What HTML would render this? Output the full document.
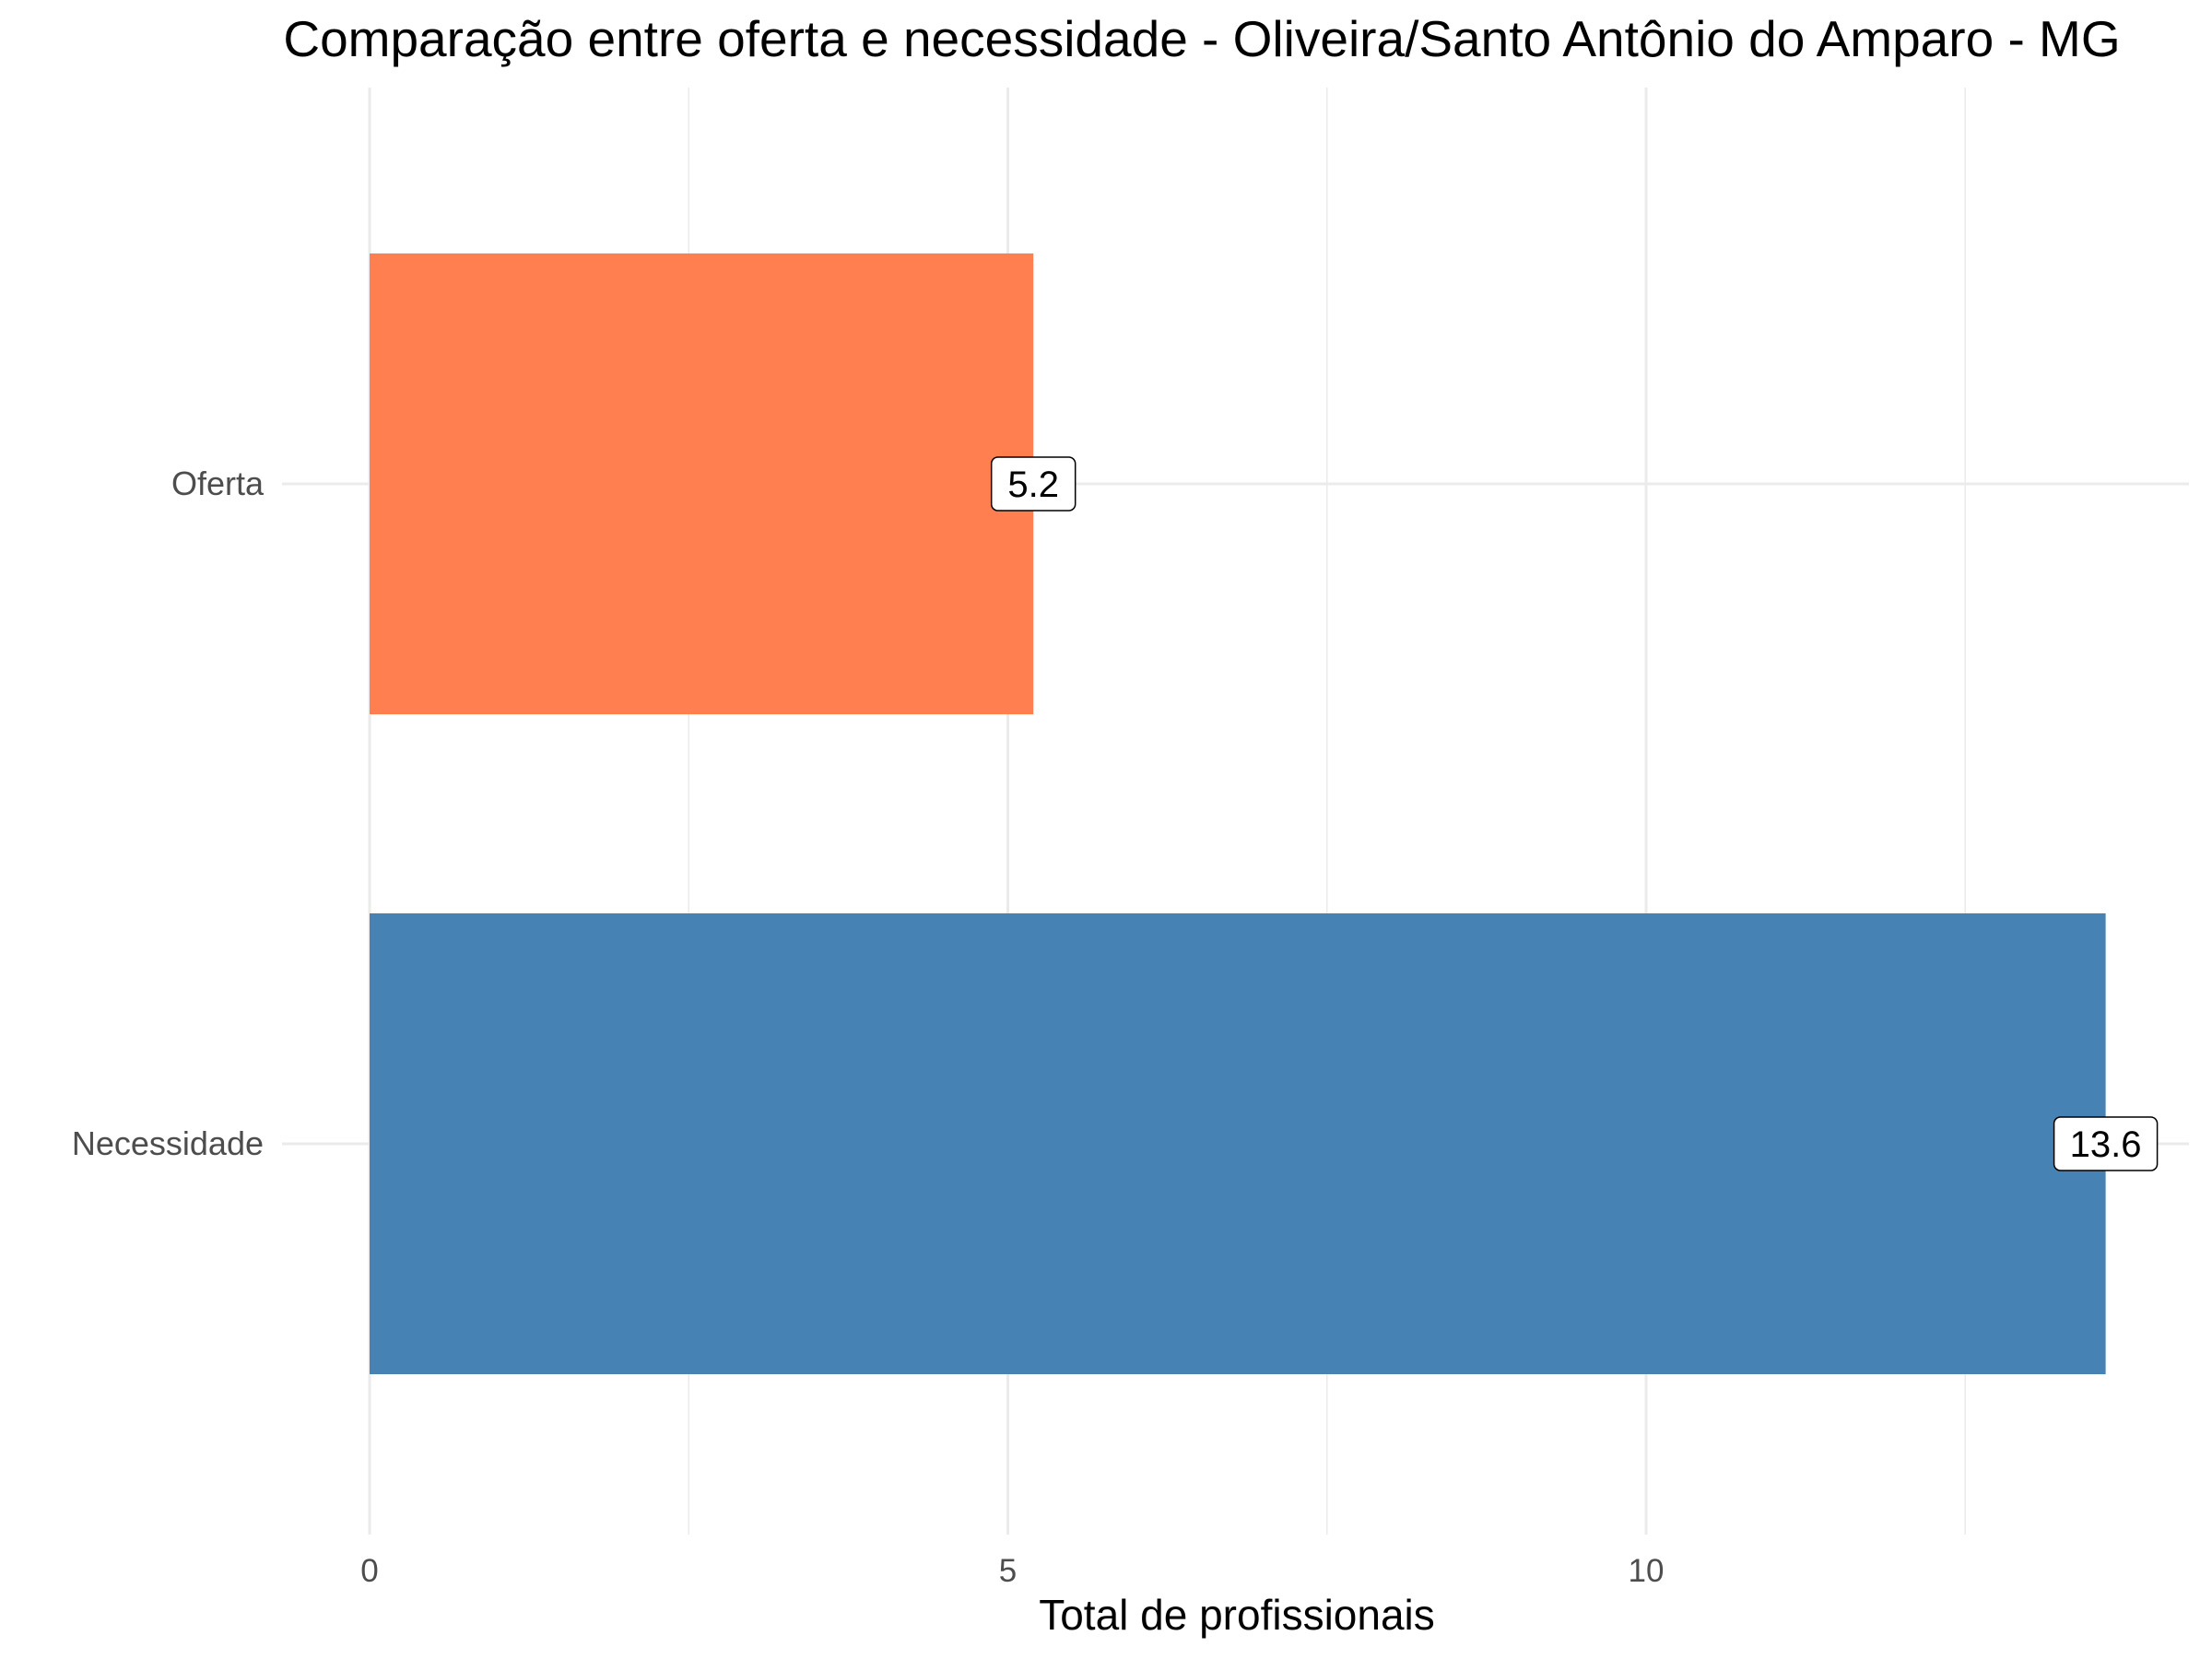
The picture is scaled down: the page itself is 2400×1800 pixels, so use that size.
<!DOCTYPE html>
<html><head><meta charset="utf-8"><style>
body{margin:0;background:#fff}
svg{display:block;font-family:"Liberation Sans",Arial,sans-serif}
</style></head><body>
<svg id="chart" width="2400" height="1800" viewBox="0 0 2400 1800" xmlns="http://www.w3.org/2000/svg">
<text x="1304" y="61" font-size="55" text-anchor="middle" fill="#000">Comparação entre oferta e necessidade - Oliveira/Santo Antônio do Amparo - MG</text>
<g id="grid"></g><g id="bars"></g><g id="labels"></g><g id="axes"></g>
<text x="1342" y="1768" font-size="46" text-anchor="middle" fill="#000">Total de profissionais</text>
</svg>
<script>
const categories = ["Oferta", "Necessidade"];
const values = [5.2, 13.6];
const colors = ["#FF7F50", "#4682B4"];
const xTicks = [0, 5, 10];
const xMinor = [2.5, 7.5, 12.5];
const NS = "http://www.w3.org/2000/svg";
const X0 = 401, PX_PER_UNIT = 138.5, PLOT_TOP = 95, PLOT_BOTTOM = 1665, PLOT_LEFT = 306, PLOT_RIGHT = 2375;
const xScale = v => X0 + v * PX_PER_UNIT;
const bandCenters = [525, 1241];
const yScale = i => bandCenters[i];
const barH = 500;
function mk(tag, attrs, parent){const e=document.createElementNS(NS,tag);for(const k in attrs)e.setAttribute(k,attrs[k]);parent.appendChild(e);return e;}
const grid=document.getElementById('grid'), bars=document.getElementById('bars'), labels=document.getElementById('labels'), axes=document.getElementById('axes');
xMinor.forEach(v=>{const l=mk('line',{x1:xScale(v),x2:xScale(v),y1:PLOT_TOP,y2:PLOT_BOTTOM,stroke:'#ebebeb','stroke-width':1.5},grid);

});
xTicks.forEach(v=>{const l=mk('line',{x1:xScale(v),x2:xScale(v),y1:PLOT_TOP,y2:PLOT_BOTTOM,stroke:'#ebebeb','stroke-width':3},grid);


const t=mk('text',{x:xScale(v),y:1716,'font-size':35,'text-anchor':'middle',fill:'#4d4d4d'},axes);t.textContent=v;

});
categories.forEach((c,i)=>{
const g=mk('line',{x1:PLOT_LEFT,x2:PLOT_RIGHT,y1:yScale(i),y2:yScale(i),stroke:'#ebebeb','stroke-width':3},grid);


const r=mk('rect',{x:xScale(0),y:yScale(i)-barH/2,width:xScale(values[i])-xScale(0),height:barH,fill:colors[i]},bars);


const t=mk('text',{x:286,y:yScale(i)+12,'font-size':36,'text-anchor':'end',fill:'#4d4d4d'},axes);t.textContent=c;


const s=String(values[i]);const w=s.length*21+28;
const b=mk('rect',{x:xScale(values[i])-w/2,y:yScale(i)-29,width:w,height:58,rx:7,fill:'#fff',stroke:'#000','stroke-width':1.5},labels);


const lt=mk('text',{x:xScale(values[i]),y:yScale(i)+14,'font-size':40,'text-anchor':'middle',fill:'#000'},labels);lt.textContent=s;


});
</script>
</body></html>
